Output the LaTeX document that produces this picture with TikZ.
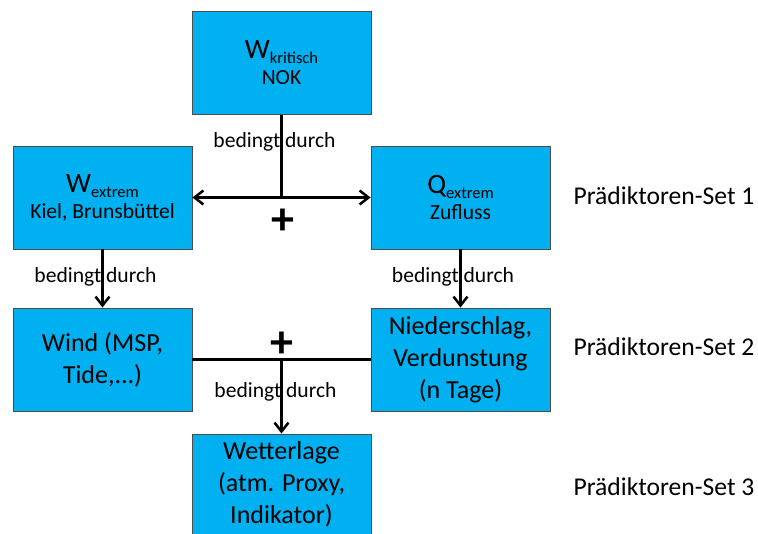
\documentclass[tikz,border=0pt]{standalone}
\usepackage{fontspec}
\setmainfont{Carlito}
\usetikzlibrary{arrows.meta}
\definecolor{boxcyan}{HTML}{00B0F0}
\newcommand\boxfont{\fontsize{26}{32}\selectfont}
\newcommand\lblfont{\fontsize{21.6}{26}\selectfont}
\newcommand\subfont{\fontsize{16.5}{18}\selectfont}
\newcommand\idx[2]{#1\raisebox{-5pt}{\subfont #2}}
\tikzset{
  predbox/.style={draw=black!70, line width=0.8pt, fill=boxcyan,
    minimum width=179pt, minimum height=103pt, inner sep=0pt,
    align=center, font=\boxfont},
  link/.style={line width=2.5pt},
  tip/.style={-{Straight Barb[length=9pt,width=14pt]}},
  twotips/.style={{Straight Barb[length=9pt,width=14pt]}-{Straight Barb[length=9pt,width=14pt]}},
  bedingt/.style={anchor=base, font=\lblfont},
  plus/.style={font=\fontsize{46}{46}\selectfont\bfseries, inner sep=0pt},
  setlabel/.style={anchor=base west, font=\fontsize{25.6}{30}\selectfont}
}
\begin{document}
\begin{tikzpicture}[x=1pt, y=-1pt]
\useasboundingbox (0,0) rectangle (758,534);

% boxes
\node[predbox] (nok) at (281.5,63) {\fontsize{28}{32}\selectfont\idx{W}{kritisch}\\[-6pt]{\lblfont NOK}};
\node[predbox] (wext) at (102.5,197.5) {\fontsize{28}{32}\selectfont\idx{W}{extrem}\\[-6pt]{\lblfont Kiel, Brunsbüttel}};
\node[predbox] (qext) at (460.5,197.5) {\fontsize{28}{32}\selectfont\idx{Q}{extrem}\\[-6pt]{\lblfont Zufluss}};
\node[predbox] (wind) at (102.5,359.5) {Wind (MSP,\\Tide,...)};
\node[predbox] (nied) at (460.5,359.5) {Niederschlag,\\Verdunstung\\(n Tage)};
\node[predbox, minimum height=100pt] (wetter) at (281.5,484) {Wetterlage\\(atm. Proxy,\\Indikator)};

% connectors
\coordinate (topjoin) at (nok.south |- wext.east);
\draw[link] (nok.south) -- (topjoin);
\draw[link, twotips] (wext.east) -- (qext.west);
\draw[link, tip] (wext) -- (wind);
\draw[link, tip] (qext) -- (nied);
\coordinate (botjoin) at (wetter.north |- wind.east);
\draw[link] (wind.east) -- (nied.west);
\draw[link, tip] (botjoin) -- (wetter.north);

% labels
\node[bedingt] (b1) at (274.5,148) {bedingt durch};
\node[bedingt] (b2) at (95.5,283) {bedingt durch};
\node[bedingt] (b3) at (453,283) {bedingt durch};
\node[bedingt] (b4) at (275.5,398) {bedingt durch};
\node[plus] (p1) at (282.5,222) {+};
\node[plus] (p2) at (281.5,344.5) {+};

\node[setlabel] (set1) at (570,205) {Prädiktoren-Set 1};
\node[setlabel] (set2) at (570,356) {Prädiktoren-Set 2};
\node[setlabel] (set3) at (570,496) {Prädiktoren-Set 3};
\end{tikzpicture}
\end{document}
